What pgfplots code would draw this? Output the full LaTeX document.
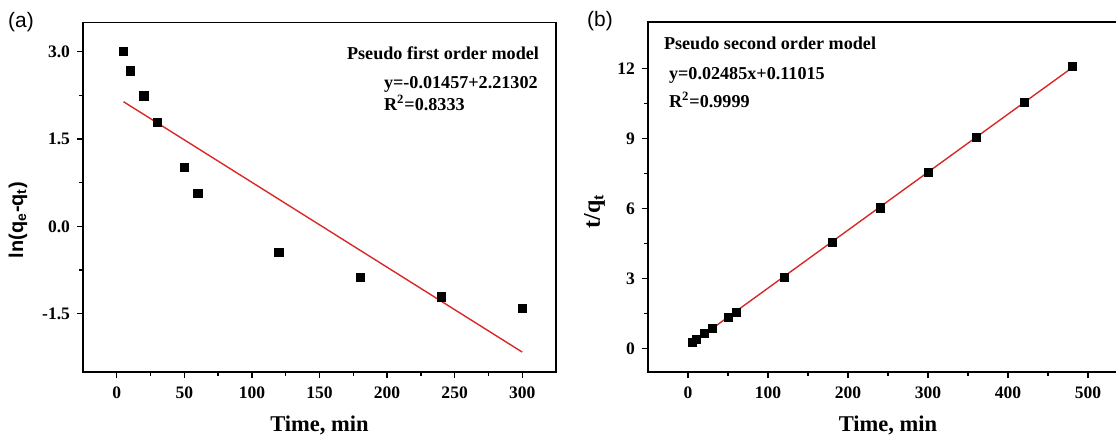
\documentclass[border=0pt]{standalone}
\usepackage{fontspec}
\setmainfont{Liberation Serif}
\newfontfamily\arialf{Liberation Sans}
\usepackage{pgfplots}
\pgfplotsset{compat=1.18}
\definecolor{fitred}{RGB}{218,40,40}

\pgfplotsset{
  kinetics/.style={
    scale only axis,
    axis line style={line width=0.8bp},
    tick style={line width=0.7bp, black},
    major tick length=3bp, minor tick length=2bp,
    tick align=outside, xtick pos=bottom, ytick pos=left,
    ticklabel style={font=\bfseries\fontsize{8.8}{9}\selectfont},
    xticklabel style={yshift=-1bp},
    label style={font=\bfseries},
    minor x tick num=1, minor y tick num=1,
    clip=false,
  },
}

\begin{document}
\begin{tikzpicture}
% (a) pseudo first order
\begin{axis}[kinetics,
  at={(41.5bp,31.5bp)}, anchor=south west,
  width=236.5bp, height=174.75bp,
  xmin=-25, xmax=325, ymin=-2.5, ymax=3.5,
  xtick={0,50,...,300}, xticklabels={0,50,100,150,200,250,300},
  ytick={-1.5,0,1.5,3}, yticklabels={-1.5,0.0,1.5,3.0},
  xlabel={\fontsize{11.3}{12}\selectfont Time, min},
  xlabel style={at={(axis description cs:0.5,-0.1516)}, anchor=center},
  ylabel={\arialf\bfseries\fontsize{10}{12}\selectfont ln(q\textsubscript{e}-q\textsubscript{t})},
  ylabel style={at={(axis description cs:-0.1374,0.435)}, anchor=center},
]
\addplot[only marks, mark=square*, mark size=2.05bp, black] coordinates {
  (5,3.01) (10,2.67) (20,2.24) (30,1.78) (50,1.01) (60,0.56)
  (120,-0.45) (180,-0.87) (240,-1.21) (300,-1.41)};
\addplot[fitred, line width=0.7bp] coordinates {(5,2.14017) (300,-2.15798)};
\end{axis}

% (b) pseudo second order
\begin{axis}[kinetics,
  at={(324bp,31.5bp)}, anchor=south west,
  width=240bp, height=175bp,
  xmin=-50, xmax=550, ymin=-1, ymax=14,
  xtick={0,100,...,500}, xticklabels={0,100,200,300,400,500},
  ytick={0,3,...,12}, yticklabels={0,3,6,9,12},
  xlabel={\fontsize{11.3}{12}\selectfont Time, min},
  xlabel style={at={(axis description cs:0.5,-0.1514)}, anchor=center},
  ylabel={\fontsize{12}{13}\selectfont t/q\textsubscript{t}},
  ylabel style={at={(axis description cs:-0.1115,0.46)}, anchor=center},
]
\addplot[only marks, mark=square*, mark size=2.05bp, black] coordinates {
  (5,0.26) (10,0.41) (20,0.65) (30,0.87) (50,1.33) (60,1.55)
  (120,3.04) (180,4.54) (240,6.03) (300,7.55) (360,9.05) (420,10.55) (480,12.09)};
\addplot[fitred, line width=0.7bp] coordinates {(5,0.2344) (480,12.0382)};
\end{axis}

% annotations
\node[anchor=east, font=\bfseries\fontsize{9.1}{10}\selectfont] at (273bp,191bp) {Pseudo first order model};
\node[anchor=west, font=\bfseries\fontsize{9.1}{10}\selectfont] at (188.5bp,175.5bp) {y=-0.01457+2.21302};
\node[anchor=west, font=\bfseries\fontsize{9.1}{10}\selectfont] at (188.5bp,166bp) {R\textsuperscript{2}=0.8333};
\node[anchor=west, font=\bfseries\fontsize{9.1}{10}\selectfont] at (328.5bp,196bp) {Pseudo second order model};
\node[anchor=west, font=\bfseries\fontsize{9.1}{10}\selectfont] at (331bp,180bp) {y=0.02485x+0.11015};
\node[anchor=west, font=\bfseries\fontsize{9.1}{10}\selectfont] at (331bp,167.5bp) {R\textsuperscript{2}=0.9999};
\node[font=\arialf\fontsize{10.5}{12}\selectfont] at (10.5bp,206.5bp) {(a)};
\node[font=\arialf\fontsize{10.5}{12}\selectfont] at (300bp,207bp) {(b)};

\pgfresetboundingbox
\path (0,0) rectangle (558bp,217.5bp);
\end{tikzpicture}
\end{document}
